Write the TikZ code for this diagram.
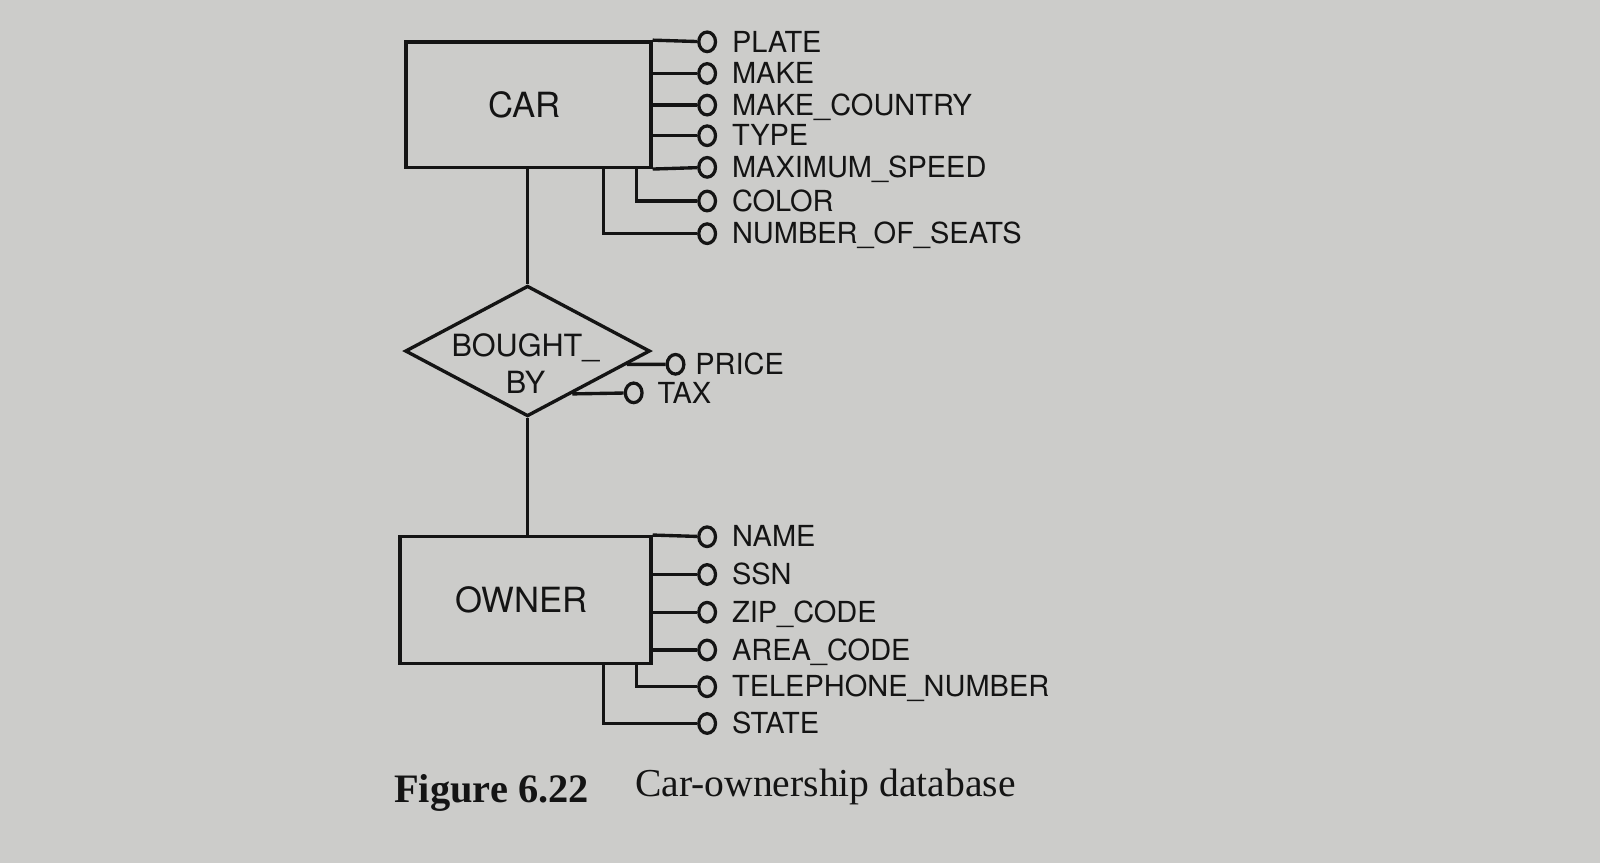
\documentclass[tikz,border=0pt]{standalone}
\usepackage{fontspec}
\newfontfamily\diafont{TeX Gyre Heros}
\newfontfamily\capfont{Liberation Serif}
\usetikzlibrary{shapes.geometric,calc}
\definecolor{pagebg}{RGB}{204,204,202}
\definecolor{ink}{RGB}{20,20,20}
\begin{document}
\begin{tikzpicture}[x=0.5pt,y=-0.5pt,
  conn/.style={draw=ink, line width=1.65pt},
  entity/.style={draw=ink, line width=1.65pt, rectangle, inner sep=0pt, font=\diafont\fontsize{17}{20}\selectfont, text=ink},
  reln/.style={draw=ink, line width=1.65pt, diamond, minimum width=120pt, minimum height=64pt, inner sep=0pt},
  attr/.style={draw=ink, line width=1.6pt, ellipse, minimum width=8.2pt, minimum height=9.6pt, inner sep=0pt},
  lbl/.style={anchor=west, inner sep=0pt, text height=10pt, text depth=0pt, font=\diafont\fontsize{14.2}{16}\selectfont, text=ink},
  captxt/.style={anchor=base west, inner sep=0pt, font=\capfont\fontsize{19.4}{22}\selectfont, text=ink}
]
\fill[pagebg] (0,0) rectangle (1568,846);
\useasboundingbox (0,0) rectangle (1568,846);

% entities and relationship
\node[entity, minimum width=120pt, minimum height=61.5pt] (car) at (518,102.5) {CAR\hspace*{4pt}};
\node[reln] (rel) at (517,344) {};
\node[font=\diafont\fontsize{15}{18}\selectfont, align=center, text=ink, inner sep=0pt] (relt) at (515,356) {BOUGHT\_\\BY};
\node[entity, minimum width=123pt, minimum height=62pt] (owner) at (515,588) {OWNER\hspace*{4pt}};

\draw[conn] (rel.north) -- (rel.north |- car.south);
\draw[conn] (rel.south) -- (rel.south |- owner.north);

% CAR attributes
\node[attr] (aplate) at (693,41) {};
\node[lbl] (lplate) at (717,41) {PLATE};
\node[attr] (amake) at (693,72) {};
\node[lbl] (lmake) at (717,72) {MAKE};
\node[attr] (amc) at (693,103) {};
\node[lbl] (lmc) at (717,103) {MAKE\_COUNTRY};
\node[attr] (atype) at (693,133) {};
\node[lbl] (ltype) at (717,133) {TYPE};
\node[attr] (amax) at (693,164) {};
\node[lbl] (lmax) at (717,164) {MAXIMUM\_SPEED};
\node[attr] (acolor) at (693,197) {};
\node[lbl] (lcolor) at (717,197) {COLOR};
\node[attr] (anos) at (693,229) {};
\node[lbl] (lnos) at (717,229) {NUMBER\_OF\_SEATS};

\draw[conn] (car.north east) -- (aplate);
\draw[conn] (car.east |- amake) -- (amake);
\draw[conn] (car.east |- amc) -- (amc);
\draw[conn] (car.east |- atype) -- (atype);
\draw[conn] (car.south east) -- (amax);
\coordinate (ccol) at ([xshift=-8pt]car.south east);
\draw[conn] (ccol) |- (acolor);
\coordinate (cnos) at ([xshift=-24pt]car.south east);
\draw[conn] (cnos) |- (anos);

% relationship attributes
\coordinate (pstart) at ($(rel.east)!0.2!(rel.south)$);
\coordinate (tstart) at ($(rel.east)!0.64!(rel.south)$);
\node[attr] (aprice) at (662,357) {};
\node[lbl] (lprice) at (681,357) {PRICE};
\node[attr] (atax) at (621,385) {};
\node[lbl] (ltax) at (644,385) {TAX};
\draw[conn] (pstart) -- (aprice);
\draw[conn] (tstart) -- (atax);

% OWNER attributes
\node[attr] (aname) at (693,526) {};
\node[lbl] (lname) at (717,526) {NAME};
\node[attr] (assn) at (693,563) {};
\node[lbl] (lssn) at (717,563) {SSN};
\node[attr] (azip) at (693,600) {};
\node[lbl] (lzip) at (717,600) {ZIP\_CODE};
\node[attr] (aarea) at (693,637) {};
\node[lbl] (larea) at (717,637) {AREA\_CODE};
\node[attr] (atel) at (693,673) {};
\node[lbl] (ltel) at (717,673) {TELEPHONE\_NUMBER};
\node[attr] (astate) at (693,709) {};
\node[lbl] (lstate) at (717,709) {STATE};

\draw[conn] (owner.north east) -- (aname);
\draw[conn] (owner.east |- assn) -- (assn);
\draw[conn] (owner.east |- azip) -- (azip);
\draw[conn] (owner.east |- aarea) -- (aarea);
\coordinate (ctel) at ([xshift=-8pt]owner.south east);
\draw[conn] (ctel) |- (atel);
\coordinate (cstate) at ([xshift=-24pt]owner.south east);
\draw[conn] (cstate) |- (astate);

% caption
\node[captxt, font=\capfont\bfseries\fontsize{19.8}{22}\selectfont] (capnum) at (386,786) {Figure 6.22};
\node[captxt] (captext) at (622,781) {Car-ownership database};
\end{tikzpicture}
\end{document}
